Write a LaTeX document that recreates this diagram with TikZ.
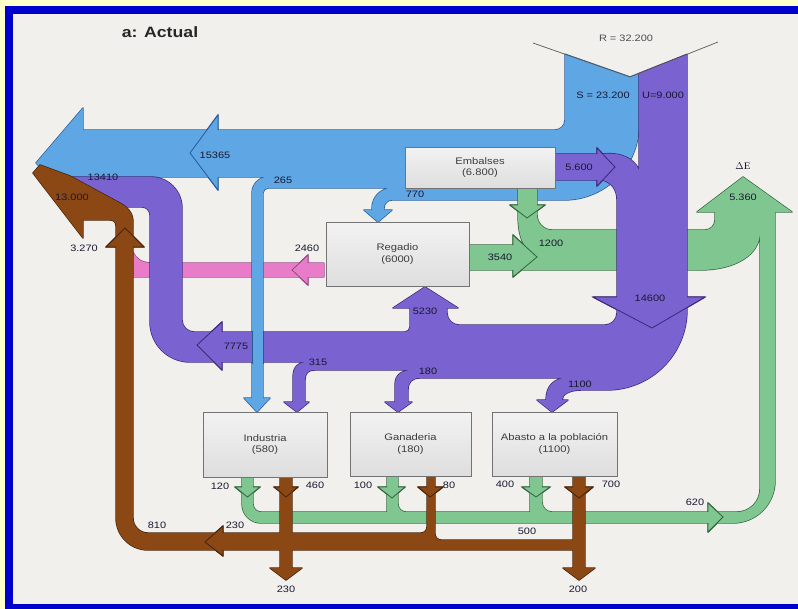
\documentclass[tikz,border=0pt]{standalone}
\usepackage{fontspec}
\setmainfont{Liberation Sans}[FakeStretch=1.18]
\newfontfamily\deltafont{Liberation Serif}[FakeStretch=1.1]

\definecolor{paper}{RGB}{242,240,237}
\definecolor{margin}{RGB}{255,255,204}
\definecolor{frameblue}{RGB}{0,0,204}
\definecolor{sBlue}{RGB}{94,166,228}
\definecolor{eBlue}{RGB}{40,90,150}
\definecolor{sPurple}{RGB}{122,98,208}
\definecolor{ePurple}{RGB}{60,40,120}
\definecolor{sGreen}{RGB}{128,198,144}
\definecolor{eGreen}{RGB}{50,100,60}
\definecolor{sBrown}{RGB}{139,72,20}
\definecolor{eBrown}{RGB}{70,35,10}
\definecolor{sPink}{RGB}{232,124,200}
\definecolor{ePink}{RGB}{150,70,130}
\definecolor{labelink}{RGB}{25,25,50}
\definecolor{boxink}{RGB}{60,60,60}

\tikzset{
  flow/.style 2 args={fill=#1, preaction={draw=#2, line width=1.4pt, line join=round}},
  chev/.style={draw=#1, line width=0.8pt, line join=miter},
  box/.style={draw=black!55, line width=0.8pt, top color=black!5, bottom color=black!13,
    inner sep=0pt, outer sep=0pt, align=center, text=boxink,
    font=\fontsize{9.5}{11.5}\selectfont},
  lab/.style={text=labelink, inner sep=0pt, font=\fontsize{9.3}{10}\selectfont},
  vline/.style={draw=black!65, line width=0.7pt}
}

\begin{document}
\begin{tikzpicture}[x=1pt,y=-1pt]
\useasboundingbox (0,0) rectangle (798,608);
% paper and frame
\fill[margin] (-2,-2) rectangle (800,610);
\fill[frameblue] (5,6) rectangle (800,610);
\fill[paper] (13,14) rectangle (800,604);

% ---- pink: Regadio -> 2460
\path[flow={sPink}{ePink}] (133,252) .. controls (136,259) and (142,263) .. (152,263)
  -- (299.5,263) -- (308,255) -- (308,263) -- (324,263) -- (324,277) -- (308,277)
  -- (308,285) -- (299.5,277) -- (120,277) -- (120,252) -- cycle;
\draw[chev=ePink] (308,263) -- (308,255) -- (292,270) -- (308,285) -- (308,277);

% ---- blue: S stream
\path[flow={sBlue}{eBlue}] (565,54.2) -- (630,77) -- (639,73.4) -- (639,125)
  arc[start angle=0,end angle=90,radius=75] -- (392,200)
  arc[start angle=270,end angle=180,radius=8] -- (384,210) -- (392,210) -- (378,222)
  -- (364,210) -- (372,210) -- (372,208) arc[start angle=180,end angle=270,radius=20]
  -- (268,188) arc[start angle=270,end angle=180,radius=5] -- (263,398) -- (270,398)
  -- (257,412) -- (244,398) -- (252,398) -- (252,193)
  arc[start angle=180,end angle=270,radius=16] -- (218,177) -- (218,190) -- (208.2,177)
  -- (50,177) -- (36,163) -- (83,108) -- (83,130) -- (207,130) -- (218,115) -- (218,130)
  -- (555,130) arc[start angle=90,end angle=0,radius=10] -- cycle;
\draw[chev=eBlue] (218,130) -- (218,115) -- (190,153) -- (218,190) -- (218,177);

% ---- green: returns and evaporation
\path[flow={sGreen}{eGreen}] (518,186) -- (537,186) -- (537,205) -- (545,205) -- (537,210.8)
  -- (537,215) arc[start angle=180,end angle=90,radius=15] -- (705,230)
  arc[start angle=90,end angle=0,radius=10] -- (715,212) -- (697,212) -- (743,177)
  -- (792,212) -- (775,212) -- (775,481) arc[start angle=0,end angle=90,radius=42]
  -- (717,523) -- (708,532) -- (708,523) -- (261,523)
  arc[start angle=90,end angle=180,radius=19] -- (242,492.8) -- (235,487) -- (242,487)
  -- (242,475) -- (253,475) -- (253,487) -- (260,487) -- (253,492.8) -- (253,504)
  arc[start angle=180,end angle=90,radius=8] -- (387,512) -- (387,494.1) -- (378,487)
  -- (387,487) -- (387,475) -- (398,475) -- (398,487) -- (405,487) -- (398,492.9)
  -- (398,504) arc[start angle=180,end angle=90,radius=8] -- (530,512) -- (530,492.7)
  -- (522,487) -- (530,487) -- (530,475) -- (542,475) -- (542,487) -- (550,487)
  -- (542,492.7) -- (542,502) arc[start angle=180,end angle=90,radius=10] -- (708,512)
  -- (708,503) -- (717.6,512) -- (737,512) arc[start angle=90,end angle=0,radius=23]
  -- (760,232) .. controls (760,255) and (735,270) .. (700,270) -- (521.4,270)
  -- (513,277) -- (513,270) -- (467,270) -- (467,245) -- (513,245) -- (513,235)
  -- (530,250.6) .. controls (522,245) and (518,235) .. (518,213) -- (518,211.1)
  -- (510,205) -- (518,205) -- cycle;
\draw[chev=eGreen] (537,205) -- (545,205) -- (527,218) -- (510,205) -- (518,205);
\draw[chev=eGreen] (513,245) -- (513,235) -- (537,257) -- (513,277) -- (513,270);
\draw[chev=eGreen] (242,487) -- (235,487) -- (247.5,497) -- (260,487) -- (253,487);
\draw[chev=eGreen] (387,487) -- (378,487) -- (392,498) -- (405,487) -- (398,487);
\draw[chev=eGreen] (530,487) -- (522,487) -- (536,497) -- (550,487) -- (542,487);
\draw[chev=eGreen] (708,512) -- (708,503) -- (723,517) -- (708,532) -- (708,523);

% ---- purple: U stream
\path[flow={sPurple}{ePurple}] (639,73.4) -- (687,54.3) -- (687,297) -- (705,297)
  -- (687,307.5) -- (687,310) arc[start angle=0,end angle=90,radius=80] -- (582,390)
  .. controls (570,390) and (562,394) .. (562,400) -- (568,400) -- (552,412) -- (537,400)
  -- (546,400) .. controls (546,386) and (554,378) .. (567,378) -- (420,378)
  .. controls (412,378) and (408,382) .. (408,390) -- (408,402) -- (412,402) -- (398,412)
  -- (385,402) -- (395,402) -- (395,385) .. controls (395,374) and (402,370) .. (415,370)
  -- (315,370) .. controls (308,370) and (305,373) .. (305,380) -- (305,402) -- (309,402)
  -- (297,412) -- (284,402) -- (293,402) -- (293,378) .. controls (293,366) and (298,362) .. (310,362)
  -- (222,362) -- (222,370) -- (214,362) -- (190,362) arc[start angle=90,end angle=180,radius=40]
  -- (150,215) arc[start angle=0,end angle=-90,radius=8] -- (70,207) -- (70,177) -- (151,177)
  arc[start angle=-90,end angle=0,radius=31] -- (182,320) arc[start angle=180,end angle=90,radius=12]
  -- (211.1,332) -- (222,322) -- (222,332) -- (405,332) arc[start angle=90,end angle=0,radius=5]
  -- (410,308) -- (393,308) -- (425,287) -- (458,308) -- (447,308) -- (447,313)
  arc[start angle=180,end angle=90,radius=12] -- (605,325) arc[start angle=90,end angle=0,radius=12]
  -- (617,309.6) -- (593,297) -- (617,297) -- (617,200) .. controls (617,190) and (612,183) .. (603,180)
  -- (597,186) -- (597,180) -- (553,180) -- (553,154) -- (597,154) -- (597,148) -- (602.7,154)
  .. controls (620,152) and (634,158) .. (639,170) -- cycle;
\draw[chev=ePurple] (597,154) -- (597,148) -- (615,167) -- (597,186) -- (597,180);
\draw[chev=ePurple] (617,297) -- (593,297) -- (652,328) -- (705,297) -- (687,297);
\draw[chev=ePurple] (222,332) -- (222,322) -- (197,345) -- (222,370) -- (222,362);

% ---- brown: returns to the sea and outflows
\path[flow={sBrown}{eBrown}] (40,165) -- (70,176) -- (118,202) .. controls (128,207) and (133,213) .. (133,222)
  -- (133,236) -- (144,247) -- (133,247) -- (133,518) arc[start angle=180,end angle=90,radius=15]
  -- (215.1,533) -- (223,526) -- (223,533) -- (280,533) -- (280,491.2) -- (274,487) -- (280,487)
  -- (280,475) -- (292,475) -- (292,487) -- (298,487) -- (292,492) -- (292,533) -- (421,533)
  arc[start angle=90,end angle=0,radius=6] -- (427,494.5) -- (418,487) -- (427,487) -- (427,475)
  -- (435,475) -- (435,487) -- (443,487) -- (435,493.2) -- (435,534)
  arc[start angle=180,end angle=90,radius=6] -- (573,540) -- (573,492.9) -- (565,487) -- (573,487)
  -- (573,475) -- (585,475) -- (585,487) -- (593,487) -- (585,493.8) -- (585,568) -- (595,568)
  -- (579,580) -- (563,568) -- (573,568) -- (573,550) -- (292,550) -- (292,568) -- (302,568)
  -- (286,580) -- (270,568) -- (280,568) -- (280,550) -- (223,550) -- (223,556) -- (215.3,550)
  -- (148,550) arc[start angle=90,end angle=180,radius=32] -- (116,247) -- (106,247) -- (116,237)
  -- (116,226) .. controls (116,222) and (114,220) .. (110,220) -- (83,220) -- (83,238)
  -- (33,173) -- cycle;
\draw[chev=eBrown] (133,247) -- (144,247) -- (125,228) -- (106,247) -- (116,247);
\draw[chev=eBrown] (223,533) -- (223,526) -- (205,542) -- (223,556) -- (223,550);
\draw[chev=eBrown] (280,487) -- (274,487) -- (286,497) -- (298,487) -- (292,487);
\draw[chev=eBrown] (427,487) -- (418,487) -- (430,497) -- (443,487) -- (435,487);
\draw[chev=eBrown] (573,487) -- (565,487) -- (579,498) -- (593,487) -- (585,487);

% ---- blue 265 stream passing over the purple band
\fill[sBlue] (252,330.5) rectangle (263,363.5);
\draw[eBlue, line width=0.7pt] (252,330.5) -- (252,363.5) (263,330.5) -- (263,363.5);

% ---- inflow split
\draw[vline] (533,43) -- (630,77) -- (718,42);

% ---- nodes
\node[box, minimum width=150pt, minimum height=41pt] (embalses) at (480,167.5) {Embalses\\(6.800)};
\node[box, minimum width=143pt, minimum height=64pt] (regadio) at (397.5,254) {Regadio\\(6000)};
\node[box, minimum width=124pt, minimum height=65pt] (industria) at (265,444.5) {Industria\\(580)};
\node[box, minimum width=121pt, minimum height=64pt] (ganaderia) at (410.5,444) {Ganaderia\\(180)};
\node[box, minimum width=125pt, minimum height=64pt] (abasto) at (554.5,444) {Abasto a la población\\(1100)};

% ---- labels
\node[text=black!85, inner sep=0pt, font=\fontsize{15}{16}\selectfont\bfseries] (title) at (160,32) {a: Actual};
\node[lab, text=black!70] (lR) at (626,38) {R = 32.200};
\node[lab] (lS) at (603,95) {S = 23.200};
\node[lab] (lU) at (663,95) {U=9.000};
\node[lab] (l15365) at (215,155) {15365};
\node[lab] (l13410) at (103,177) {13410};
\node[lab] (l13000) at (72,197) {13.000};
\node[lab] (l3270) at (84,248) {3.270};
\node[lab] (l265) at (283,180) {265};
\node[lab] (l770) at (415,194) {770};
\node[lab] (l5600) at (579,167) {5.600};
\node[lab] (l1200) at (551,243) {1200};
\node[lab] (l3540) at (500,257) {3540};
\node[lab] (l2460) at (307,248) {2460};
\node[lab, font=\deltafont\fontsize{10}{10}\selectfont] (lDE) at (743,166) {$\Delta$E};
\node[lab] (l5360) at (743,197) {5.360};
\node[lab] (l14600) at (650,298) {14600};
\node[lab] (l5230) at (425,311) {5230};
\node[lab] (l7775) at (236,346) {7775};
\node[lab] (l315) at (318,362) {315};
\node[lab] (l180) at (428,371) {180};
\node[lab] (l1100) at (580,384) {1100};
\node[lab] (l120) at (220,486) {120};
\node[lab] (l460) at (315,485) {460};
\node[lab] (l100) at (363,485) {100};
\node[lab] (l80) at (449,485) {80};
\node[lab] (l400) at (505,484) {400};
\node[lab] (l700) at (611,484) {700};
\node[lab] (l620) at (695,502) {620};
\node[lab] (l810) at (157,525) {810};
\node[lab] (l230a) at (235,525) {230};
\node[lab] (l500) at (527,531) {500};
\node[lab] (l230b) at (286,589) {230};
\node[lab] (l200) at (578,589) {200};
\end{tikzpicture}
\end{document}
